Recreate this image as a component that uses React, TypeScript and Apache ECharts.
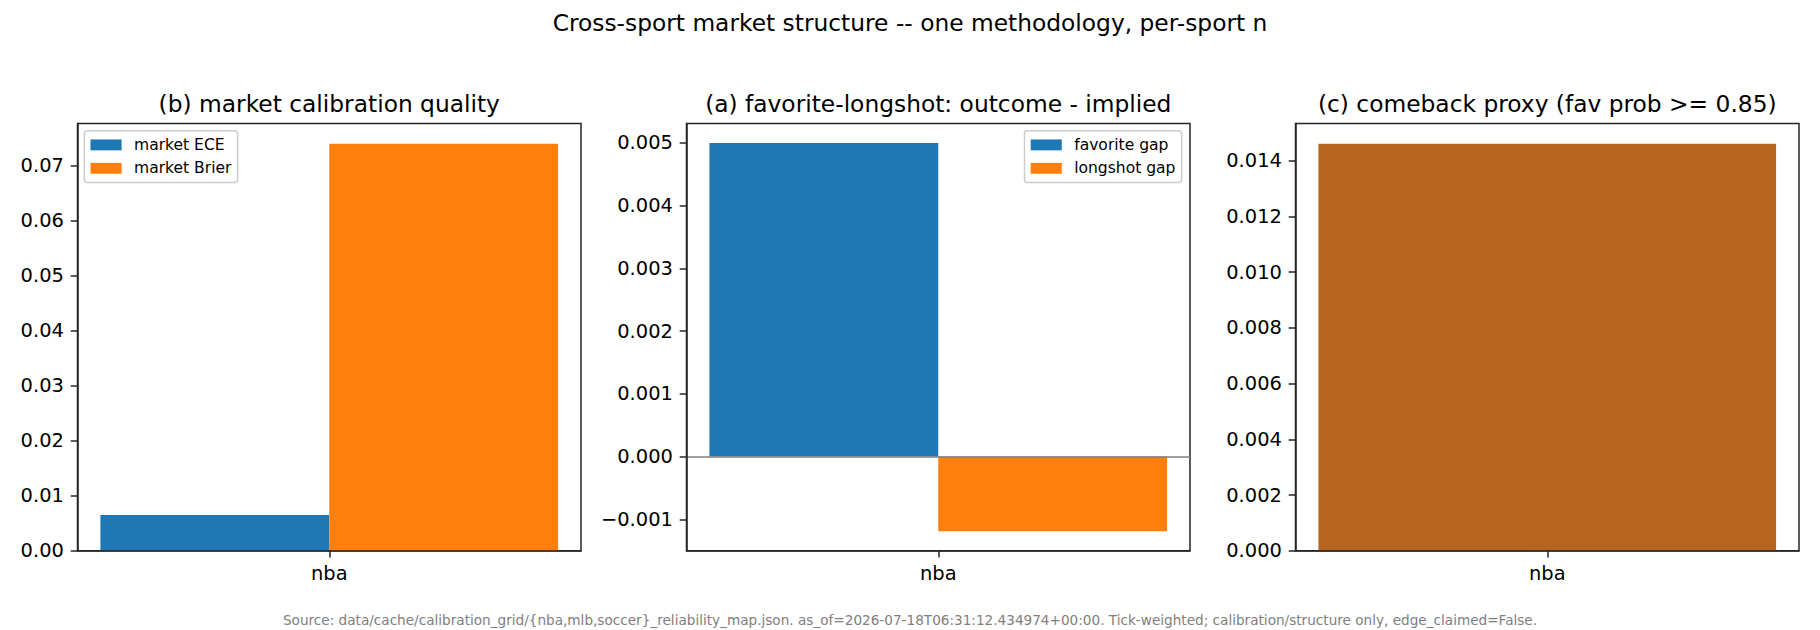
import React, { useEffect, useRef } from "react";
import * as echarts from "echarts";

// values
const sports = ["nba"];
const marketEce = [0.0065];
const marketBrier = [0.0739];
const favoriteGap = [0.005];
const longshotGap = [-0.00119];
const comebackRate = [0.01461];

const calibTicks = [0, 0.01, 0.02, 0.03, 0.04, 0.05, 0.06, 0.07];
const gapTicks = [-0.001, 0, 0.001, 0.002, 0.003, 0.004, 0.005];
const comebackTicks = [0, 0.002, 0.004, 0.006, 0.008, 0.01, 0.012, 0.014];

const suptitle = "Cross-sport market structure -- one methodology, per-sport n";
const panelTitles = [
  "(b) market calibration quality",
  "(a) favorite-longshot: outcome - implied",
  "(c) comeback proxy (fav prob >= 0.85)",
];
const footnote =
  "Source: data/cache/calibration_grid/{nba,mlb,soccer}_reliability_map.json. as_of=2026-07-18T06:31:12.434974+00:00. Tick-weighted; calibration/structure only, edge_claimed=False.";

const BLUE = "#1f77b4";
const ORANGE = "#ff7f0e";
const BROWN = "#b5651d";
const SPINE = "#262626";
const FONT = "DejaVu Sans";

// px per point at the figure's dpi
const PT = 140 / 72;

const GRID_LEFT = [77.5, 686.5, 1295.5];
const GRID_TOP = 123.5;
const GRID_W = 503.5;
const GRID_H = 427.2;

// matplotlib-like 5% margins, bars stick to zero
const extentOf = (vals: number[]) => {
  const lo = Math.min(0, ...vals);
  const hi = Math.max(0, ...vals);
  const pad = (hi - lo) * 0.05;
  return [lo < 0 ? lo - pad : 0, hi > 0 ? hi + pad : 0];
};

const fmt = (d: number) => (v: number) => v.toFixed(d).replace("-", "\u2212");

const yAxisFor = (i: number, ticks: number[], ext: number[], d: number) => ({
  type: "value",
  gridIndex: i,
  min: ext[0],
  max: ext[1],
  z: 5,
  axisLine: { show: true, lineStyle: { color: SPINE, width: 1.5 } },
  axisTick: {
    show: true,
    length: 3.5 * PT,
    customValues: ticks,
    lineStyle: { color: SPINE, width: 1.5 },
  },
  axisLabel: {
    fontSize: 10 * PT,
    color: "#000",
    margin: 7 * PT,
    customValues: ticks,
    formatter: fmt(d),
  },
  splitLine: { show: false },
});

const xAxisFor = (i: number) => ({
  type: "category",
  gridIndex: i,
  data: sports,
  z: 5,
  axisLine: { show: true, onZero: false, lineStyle: { color: SPINE, width: 1.5 } },
  axisTick: {
    show: true,
    alignWithLabel: true,
    length: 3.5 * PT,
    lineStyle: { color: SPINE, width: 1.5 },
  },
  axisLabel: { fontSize: 10 * PT, color: "#000", margin: 7 * PT },
  splitLine: { show: false },
});

const legendBase = {
  orient: "vertical",
  icon: "rect",
  itemWidth: 16 * PT,
  itemHeight: 5.6 * PT,
  itemGap: 7.4,
  padding: 6.2,
  selectedMode: false,
  backgroundColor: "rgba(255,255,255,0.8)",
  borderColor: "#cccccc",
  borderWidth: 1.5,
  borderRadius: 3,
  textStyle: { fontSize: 8 * PT, color: "#000", padding: [0, 0, 0, 7.4] },
};

const App: React.FC = () => {
  const chartRef = useRef<HTMLDivElement>(null);

  useEffect(() => {
    document.body.style.margin = "0";
    if (!chartRef.current) return;
    const chart = echarts.init(chartRef.current, null, { renderer: "svg" });

    const calibExt = extentOf([...marketEce, ...marketBrier]);
    const gapExt = extentOf([...favoriteGap, ...longshotGap]);
    const comebackExt = extentOf(comebackRate);

    const titleStyle = { fontSize: 12 * PT, fontWeight: "normal", color: "#000" };

    chart.setOption({
      animation: false,
      textStyle: { fontFamily: FONT },
      title: [
        { text: suptitle, left: 910, top: 11.5, textAlign: "center", padding: 0, textStyle: titleStyle },
        ...panelTitles.map((t, i) => ({
          text: t,
          left: GRID_LEFT[i] + GRID_W / 2,
          top: 92.5,
          textAlign: "center",
          padding: 0,
          textStyle: titleStyle,
        })),
        {
          text: footnote,
          left: 910,
          top: 613,
          textAlign: "center",
          padding: 0,
          textStyle: { fontSize: 7 * PT, fontWeight: "normal", color: "#808080" },
        },
      ],
      legend: [
        { ...legendBase, data: ["market ECE", "market Brier"], left: 84.3, top: 130.7 },
        { ...legendBase, data: ["favorite gap", "longshot gap"], right: 1820 - 1181.7, top: 130.7 },
      ],
      grid: GRID_LEFT.map((l) => ({
        left: l,
        top: GRID_TOP,
        width: GRID_W,
        height: GRID_H,
        show: true,
        borderColor: SPINE,
        borderWidth: 1.5,
        backgroundColor: "transparent",
      })),
      xAxis: [xAxisFor(0), xAxisFor(1), xAxisFor(2)],
      yAxis: [
        yAxisFor(0, calibTicks, calibExt, 2),
        yAxisFor(1, gapTicks, gapExt, 3),
        yAxisFor(2, comebackTicks, comebackExt, 3),
      ],
      series: [
        {
          name: "market ECE",
          type: "bar",
          xAxisIndex: 0,
          yAxisIndex: 0,
          data: marketEce,
          barWidth: "45.45%",
          barGap: "0%",
          itemStyle: { color: BLUE },
        },
        {
          name: "market Brier",
          type: "bar",
          xAxisIndex: 0,
          yAxisIndex: 0,
          data: marketBrier,
          barWidth: "45.45%",
          barGap: "0%",
          itemStyle: { color: ORANGE },
        },
        {
          name: "favorite gap",
          type: "bar",
          xAxisIndex: 1,
          yAxisIndex: 1,
          data: favoriteGap,
          barWidth: "45.45%",
          barGap: "0%",
          itemStyle: { color: BLUE },
          markLine: {
            silent: true,
            symbol: ["none", "none"],
            label: { show: false },
            lineStyle: { color: "#808080", width: 1.6, type: "solid" },
            data: [{ yAxis: 0 }],
          },
        },
        {
          name: "longshot gap",
          type: "bar",
          xAxisIndex: 1,
          yAxisIndex: 1,
          data: longshotGap,
          barWidth: "45.45%",
          barGap: "0%",
          itemStyle: { color: ORANGE },
        },
        {
          name: "comeback rate",
          type: "bar",
          xAxisIndex: 2,
          yAxisIndex: 2,
          data: comebackRate,
          barWidth: "90.9%",
          itemStyle: { color: BROWN },
        },
      ],
    });

    return () => {
      chart.dispose();
    };
  }, []);

  return <div ref={chartRef} style={{ width: "1820px", height: "630px" }} />;
};

export default App;
